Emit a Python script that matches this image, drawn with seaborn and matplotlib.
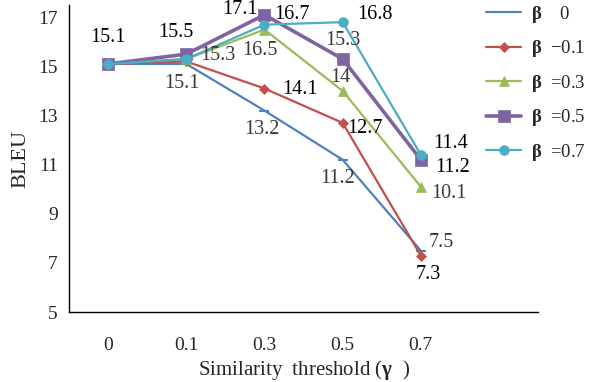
import matplotlib
matplotlib.use('Agg')
import matplotlib.pyplot as plt
import seaborn as sns
import pandas as pd
import numpy as np

thresholds = ['0', '0.1', '0.3', '0.5', '0.7']
beta_labels = ['  0', '\u22120.1', '=0.3', '=0.5', '=0.7']
bleu_b00 = [15.1, 15.1, 13.2, 11.2, 7.5]
bleu_b01 = [15.1, 15.2, 14.1, 12.7, 7.3]
bleu_b03 = [15.1, 15.3, 16.5, 14.0, 10.1]
bleu_b05 = [15.1, 15.5, 17.1, 15.3, 11.2]
bleu_b07 = [15.1, 15.3, 16.7, 16.8, 11.4]

series = [bleu_b00, bleu_b01, bleu_b03, bleu_b05, bleu_b07]
colors = ['#4F81BD', '#C0504D', '#9BBB59', '#8064A2', '#4BACC6']
markers = ['_', 'D', '^', 's', 'o']
msizes = [7, 5, 7, 8, 7]
lwidths = [1.6, 1.6, 1.6, 2.6, 1.6]

rows = []
for lab, vals in zip(beta_labels, series):
    for i, v in enumerate(vals):
        rows.append({'beta': lab, 'x': i, 'bleu': v})
df = pd.DataFrame(rows)

sns.set_style('white')
plt.rcParams['font.family'] = ['Liberation Serif', 'DejaVu Serif']
plt.rcParams['mathtext.fontset'] = 'custom'
plt.rcParams['mathtext.bf'] = 'Liberation Serif:bold'
plt.rcParams['mathtext.rm'] = 'Liberation Serif'

fig = plt.figure(figsize=(5.92, 3.82), dpi=100)
ax = fig.add_axes([0.1166, 0.183, 0.7924, 0.804])

for lab, c, m, ms, lw in zip(beta_labels, colors, markers, msizes, lwidths):
    sub = df[df['beta'] == lab]
    sns.lineplot(data=sub, x='x', y='bleu', ax=ax, color=c, marker=m,
                 markersize=ms, linewidth=lw, markeredgecolor=c,
                 markeredgewidth=1.5 if m == '_' else 0.5,
                 label='$\\mathbf{\u03b2}$  ' + lab)

# data labels: (series index, point index, dx px, dy px, text colour)
dark = '#000000'
grey = '#3a3a3a'
notes = [
    (3, 0, 0, 26, dark),
    (3, 1, -10, 22, dark),
    (4, 1, 32, 4, grey),
    (0, 1, -4, -20, grey),
    (0, 2, -3, -19, grey),
    (1, 2, 35, -1, dark),
    (2, 2, -5, -21, grey),
    (3, 2, -25, 5, dark),
    (4, 2, 27, 10, dark),
    (4, 3, 32, 8, dark),
    (3, 3, 0, 19, grey),
    (2, 3, -2, 13, grey),
    (1, 3, 22, -6, dark),
    (0, 3, -5, -19, grey),
    (4, 4, 30, 11, dark),
    (3, 4, 32, -8, dark),
    (2, 4, 28, -7, grey),
    (0, 4, 20, 8, grey),
    (1, 4, 7, -19, dark),
]
for si, pi, dx, dy, tc in notes:
    ax.annotate(f'{series[si][pi]:g}', (pi, series[si][pi]),
                xytext=(dx * 0.72, dy * 0.72), textcoords='offset points',
                ha='center', va='center', fontsize=14.5, color=tc)

ax.set_xlim(-0.5, 5.5)
ax.set_ylim(5, 17.5)
ax.set_xticks(range(len(thresholds)))
ax.set_xticklabels(thresholds)
ax.set_yticks([5, 7, 9, 11, 13, 15, 17])
ax.tick_params(axis='both', labelsize=14, length=0, pad=8)
ax.tick_params(axis='x', pad=18)
ax.set_xlabel('Similarity  threshold ($\\mathbf{\u03b3}$  )', fontsize=15, labelpad=3)
ax.set_ylabel('BLEU', fontsize=16, labelpad=6)
for s in ['top', 'right']:
    ax.spines[s].set_visible(False)
for s in ['left', 'bottom']:
    ax.spines[s].set_color('black')
    ax.spines[s].set_linewidth(1.0)

handles, labels = ax.get_legend_handles_labels()
ax.get_legend().remove()
fig.legend(handles, labels, loc='upper left', bbox_to_anchor=(0.808, 1.01),
           frameon=False, fontsize=13.5, handlelength=1.9, labelspacing=0.72,
           handletextpad=0.5, borderaxespad=0.2, borderpad=0.2)

fig.savefig('out.png', dpi=100)
